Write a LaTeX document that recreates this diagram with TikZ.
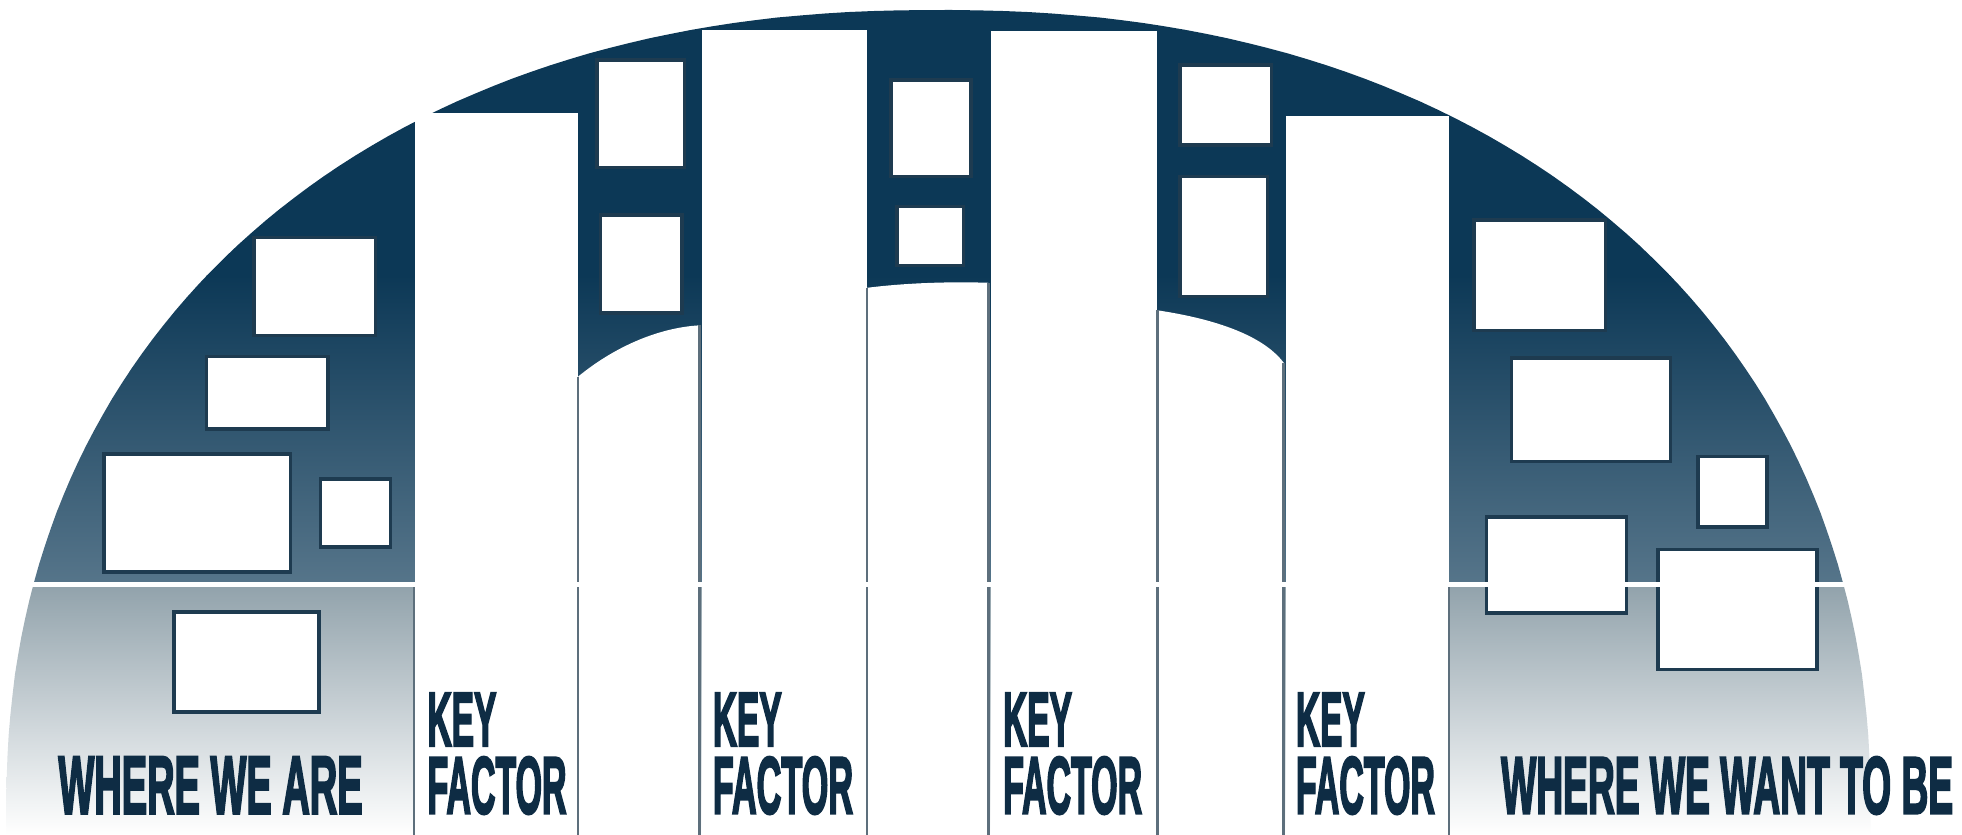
\documentclass[tikz,border=0pt]{standalone}
\usepackage{fontspec}
\setmainfont{Liberation Sans}
\newfontfamily\heavyfont{Liberation Sans}[BoldFeatures={FakeBold=3.5}]
\usetikzlibrary{fit}
\definecolor{navytext}{HTML}{0E2C44}
\definecolor{domedark}{HTML}{0C3856}
\definecolor{domemid}{HTML}{56758A}
\definecolor{lowtop}{HTML}{91A2AB}
\definecolor{lowmid}{HTML}{C4CCD0}
\definecolor{sepgray}{HTML}{5D6F7C}
\definecolor{boxedge}{HTML}{1E3B50}
\newcommand{\lbltext}[3]{\resizebox{#1}{#2}{\heavyfont\bfseries #3}}
\begin{document}
\begin{tikzpicture}[x=0.01cm, y=-0.01cm,
  wbox/.style={draw=boxedge, line width=0.8pt, fill=white, inner sep=0pt},
  sepline/.style={draw=sepgray, line width=0.6pt},
  lbl/.style={inner sep=0pt, anchor=base west, text=navytext},
  colfill/.style={fill=white, draw=none}]
\useasboundingbox (0,0) rectangle (1568,667);
% dome with shading
\begin{scope}
  \clip (5,667) -- plot[domain=179.5:90.5, samples=70] ({750-745*pow(abs(cos(\x)),0.909)}, {650-642*pow(sin(\x),0.909)})
        -- plot[domain=89.5:0.5, samples=70] ({750+745*pow(cos(\x),0.909)}, {650-642*pow(sin(\x),0.909)})
        -- (1495,667) -- cycle;
  \fill[domedark] (0,0) rectangle (1568,221);
  \shade[top color=domedark, bottom color=domemid] (0,220) rectangle (1568,467);
  \shade[top color=lowtop, middle color=lowmid, bottom color=white] (0,467) rectangle (1568,667);
\end{scope}
% white columns
\fill[colfill] (332,90) rectangle (462,667);
\fill[colfill] (462,301) .. controls (490,278) and (525,262) .. (559,260) -- (559,667) -- (462,667) -- cycle;
\fill[colfill] (561,24) rectangle (693,667);
\fill[colfill] (693,230) .. controls (725,226) and (760,225) .. (790,226) -- (790,667) -- (693,667) -- cycle;
\fill[colfill] (792,25) rectangle (925,667);
\fill[colfill] (925,248) .. controls (965,254) and (1008,266) .. (1026,290) -- (1026,667) -- (925,667) -- cycle;
\fill[colfill] (1028,93) rectangle (1158,667);
% boxes left region
\node[wbox, fit={(203,190) (300,268)}] (bA) {};
\node[wbox, fit={(165,285) (262,343)}] (bB) {};
\node[wbox, fit={(83,363) (232,457)}] (bC) {};
\node[wbox, fit={(256,383) (312,437)}] (bD) {};
\node[wbox, fit={(139,489) (255,569)}] (bE) {};
% boxes in gap columns
\node[wbox, fit={(477,48) (547,134)}] (g1a) {};
\node[wbox, fit={(480,172) (545,250)}] (g1b) {};
\node[wbox, fit={(712,64) (776,141)}] (g2a) {};
\node[wbox, fit={(717,165) (770,212)}] (g2b) {};
\node[wbox, fit={(943,52) (1016,116)}] (g3a) {};
\node[wbox, fit={(943,141) (1013,237)}] (g3b) {};
% boxes right region
\node[wbox, fit={(1178,176) (1283,264)}] (bF) {};
\node[wbox, fit={(1208,286) (1335,369)}] (bG) {};
\node[wbox, fit={(1357,365) (1412,421)}] (bH) {};
\node[wbox, fit={(1188,413) (1300,490)}] (bI) {};
\node[wbox, fit={(1325,439) (1452,535)}] (bJ) {};
% separator lines
\coordinate (s1t) at (331,467); \coordinate (s1b) at (331,667);
\coordinate (s2t) at (462,301); \coordinate (s2b) at (462,667);
\coordinate (s3t) at (559,260); \coordinate (s3b) at (559,667);
\coordinate (s4t) at (693,230); \coordinate (s4b) at (693,667);
\coordinate (s5t) at (790,226); \coordinate (s5b) at (790,667);
\coordinate (s6t) at (925,248); \coordinate (s6b) at (925,667);
\coordinate (s7t) at (1026,290); \coordinate (s7b) at (1026,667);
\coordinate (s8t) at (1158,467); \coordinate (s8b) at (1158,667);
\foreach \i in {1,...,8} { \draw[sepline] (s\i t) -- (s\i b); }
% split line
\coordinate (spl) at (0,467); \coordinate (spr) at (1568,467);
\draw[white, line width=1.1pt] (spl) -- (spr);
% labels
\node[lbl] (wwa) at (46,650) {\lbltext{2.43cm}{0.45cm}{WHERE WE ARE}};
\node[lbl] (k1) at (341,596) {\lbltext{0.55cm}{0.42cm}{KEY}};
\node[lbl] (f1) at (341,650) {\lbltext{1.11cm}{0.45cm}{FACTOR}};
\node[lbl] (k2) at (569,596) {\lbltext{0.55cm}{0.42cm}{KEY}};
\node[lbl] (f2) at (569,650) {\lbltext{1.12cm}{0.45cm}{FACTOR}};
\node[lbl] (k3) at (801,596) {\lbltext{0.55cm}{0.42cm}{KEY}};
\node[lbl] (f3) at (801,650) {\lbltext{1.11cm}{0.45cm}{FACTOR}};
\node[lbl] (k4) at (1035,596) {\lbltext{0.55cm}{0.42cm}{KEY}};
\node[lbl] (f4) at (1035,650) {\lbltext{1.11cm}{0.45cm}{FACTOR}};
\node[lbl] (wwb) at (1199,650) {\lbltext{3.61cm}{0.45cm}{WHERE WE WANT TO BE}};
\end{tikzpicture}
\end{document}
